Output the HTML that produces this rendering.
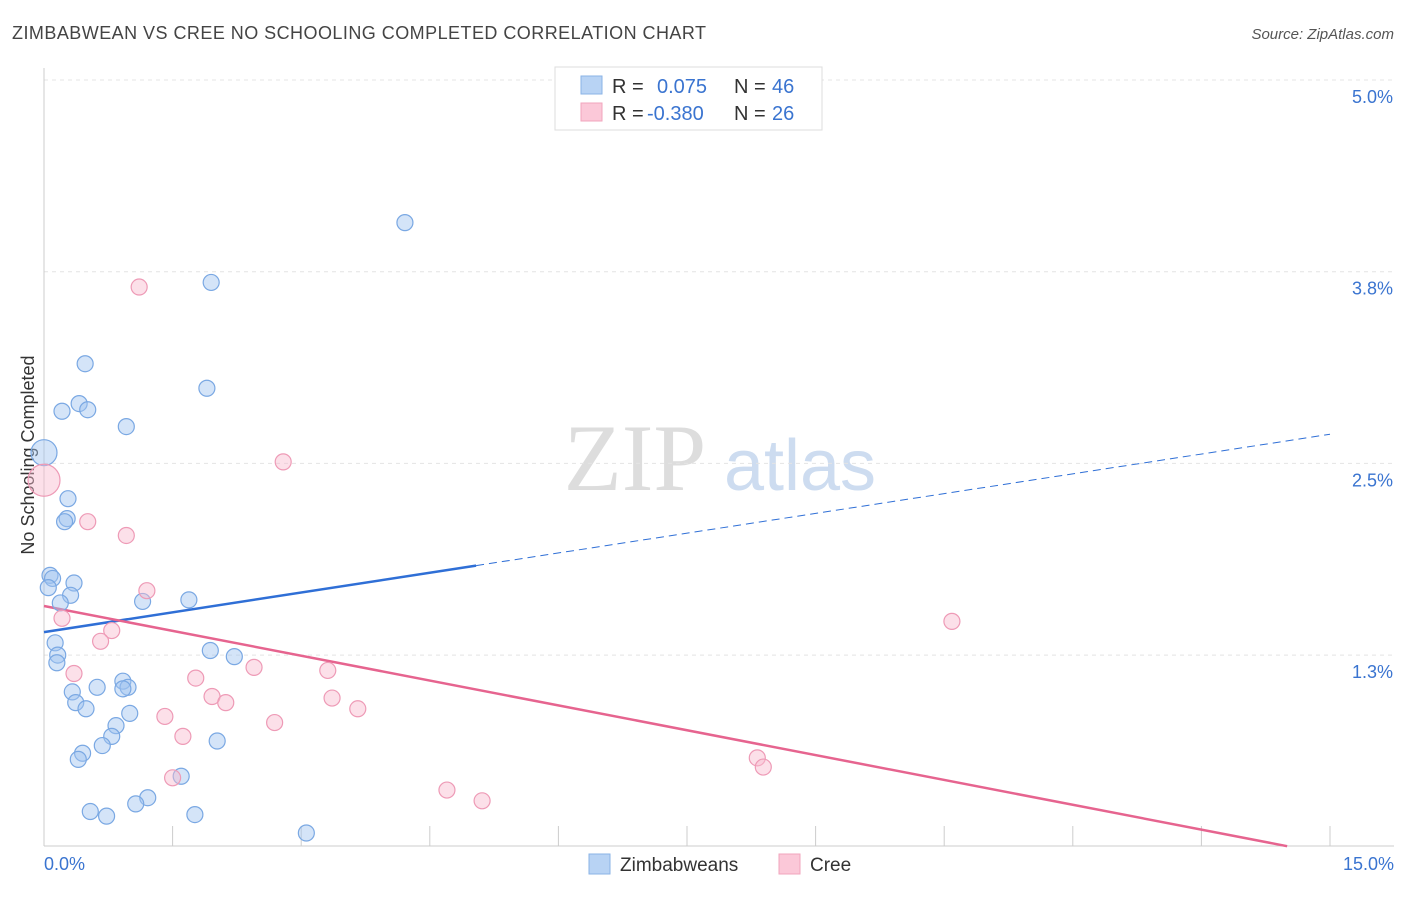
<!DOCTYPE html>
<html><head><meta charset="utf-8"><style>
body{margin:0;background:#fff;font-family:"Liberation Sans",sans-serif;}
svg text{font-family:"Liberation Sans",sans-serif;}
</style></head><body>
<svg id="chart" width="1406" height="892">
<text x="12" y="39" font-size="18" fill="#444" textLength="694">ZIMBABWEAN VS CREE NO SCHOOLING COMPLETED CORRELATION CHART</text>
<text x="1394" y="39" font-size="15" fill="#555" text-anchor="end" font-style="italic">Source: ZipAtlas.com</text>
<text x="0" y="0" transform="translate(34,455) rotate(-90)" font-size="18" fill="#333" text-anchor="middle">No Schooling Completed</text>
<g>
<text x="635" y="490" font-size="95" fill="#ddd" text-anchor="middle" style="font-family:'Liberation Serif',serif">ZIP</text>
<text x="800" y="490" font-size="72" fill="#cddcf0" text-anchor="middle">atlas</text>
</g>
<g id="grid"></g><g id="axes"></g><g id="lines"></g><g id="pts"></g>
<g>
<rect x="555" y="67" width="267" height="63" fill="#fff" stroke="#ddd"/>
<rect x="581" y="76" width="21" height="18" fill="#b8d3f4" stroke="#8ab3e6"/>
<rect x="581" y="103" width="21" height="18" fill="#fbc8d8" stroke="#f1a5bd"/>
<text x="612" y="93" font-size="20" fill="#333">R =</text>
<text x="657" y="93" font-size="20" fill="#3a74d0">0.075</text>
<text x="734" y="93" font-size="20" fill="#333">N =</text>
<text x="772" y="93" font-size="20" fill="#3a74d0">46</text>
<text x="612" y="120" font-size="20" fill="#333">R =</text>
<text x="647" y="120" font-size="20" fill="#3a74d0">-0.380</text>
<text x="734" y="120" font-size="20" fill="#333">N =</text>
<text x="772" y="120" font-size="20" fill="#3a74d0">26</text>
</g>
<g>
<rect x="589" y="854" width="21" height="20" fill="#b8d3f4" stroke="#8ab3e6"/>
<text x="620" y="871" font-size="19" fill="#333">Zimbabweans</text>
<rect x="779" y="854" width="21" height="20" fill="#fbc8d8" stroke="#f1a5bd"/>
<text x="810" y="871" font-size="19" fill="#333">Cree</text>
</g>
</svg>
<script>
const blueX=[4.21,1.95,0.48,1.90,0.41,0.21,0.51,0.96,0,0.28,0.27,0.24,0.07,0.10,0.35,0.05,0.31,0.19,1.15,1.69,0.13,0.16,0.15,1.94,2.22,0.92,0.62,0.98,0.92,0.33,0.37,0.49,1.00,0.84,0.79,2.02,0.68,0.45,0.40,1.60,1.21,1.07,0.54,0.73,1.76,3.06];
const blueY=[4.07,3.68,3.15,2.99,2.89,2.84,2.85,2.74,2.57,2.27,2.14,2.12,1.77,1.75,1.72,1.69,1.64,1.59,1.60,1.61,1.33,1.25,1.20,1.28,1.24,1.08,1.04,1.04,1.03,1.01,0.94,0.90,0.87,0.79,0.72,0.69,0.66,0.61,0.57,0.46,0.32,0.28,0.23,0.20,0.21,0.09];
const pinkX=[1.11,2.79,0,0.51,0.96,1.20,0.21,0.79,0.66,0.35,2.45,1.77,3.31,1.96,2.12,3.36,3.66,1.41,2.69,1.62,8.32,8.39,1.50,4.70,5.11,10.59];
const pinkY=[3.65,2.51,2.39,2.12,2.03,1.67,1.49,1.41,1.34,1.13,1.17,1.10,1.15,0.98,0.94,0.97,0.90,0.85,0.81,0.72,0.58,0.52,0.45,0.37,0.30,1.47];
const yTicks=[5.0,3.75,2.5,1.25];
const yTickLabels=["5.0%","3.8%","2.5%","1.3%"];
const blueTrend=[1.40,2.69]; const blueSolidEnd=5.04;
const pinkTrend=[1.57,-0.05]; const pinkEnd=14.5;
const X=v=>44+v/15*1286, Y=v=>80+(5-v)/1.25*191.7;
const NS="http://www.w3.org/2000/svg";
function mk(p,t,a){const e=document.createElementNS(NS,t);for(const k in a)e.setAttribute(k,a[k]);p.appendChild(e);return e;}
const grid=document.getElementById('grid'),axes=document.getElementById('axes'),lines=document.getElementById('lines'),pts=document.getElementById('pts');
yTicks.forEach((t,i)=>{
 const g=mk(grid,'line',{x1:44,x2:1394,y1:Y(t),y2:Y(t),stroke:'#e4e4e4','stroke-dasharray':'4,4'});
 
 
 const l=mk(axes,'text',{x:1393,y:Y(t)+23,'font-size':18,fill:'#3a74d0','text-anchor':'end'});
 l.textContent=yTickLabels[i];
 
 
});
const ax=mk(axes,'line',{x1:44,x2:44,y1:68,y2:846,stroke:'#ccc'});


const bx=mk(axes,'line',{x1:44,x2:1394,y1:846,y2:846,stroke:'#ccc'});


for(let i=1;i<=10;i++){const t=mk(axes,'line',{x1:X(i*1.5),x2:X(i*1.5),y1:826,y2:846,stroke:'#ccc'});
 
 }
[["0.0%",44,'start'],["15.0%",1394,'end']].forEach(d=>{const t=mk(axes,'text',{x:d[1],y:870,'font-size':18,fill:'#3a74d0','text-anchor':d[2]});t.textContent=d[0];
 
 });
const bf=x=>blueTrend[0]+(blueTrend[1]-blueTrend[0])*x/15, pf=x=>pinkTrend[0]+(pinkTrend[1]-pinkTrend[0])*x/15;
let l1=mk(lines,'line',{x1:X(0),y1:Y(bf(0)),x2:X(blueSolidEnd),y2:Y(bf(blueSolidEnd)),stroke:'#2f6fd6','stroke-width':2.5});


let l2=mk(lines,'line',{x1:X(blueSolidEnd),y1:Y(bf(blueSolidEnd)),x2:X(15),y2:Y(bf(15)),stroke:'#2f6fd6','stroke-width':1,'stroke-dasharray':'8,5'});


let l3=mk(lines,'line',{x1:X(0),y1:Y(pf(0)),x2:X(pinkEnd),y2:Y(pf(pinkEnd)),stroke:'#e6648f','stroke-width':2.5});


blueX.forEach((x,i)=>{const c=mk(pts,'circle',{cx:X(x),cy:Y(blueY[i]),r:x===0?13:8,fill:'rgba(160,196,240,0.45)',stroke:'#7aa8e3','stroke-width':1.2});
 
 });
pinkX.forEach((x,i)=>{const c=mk(pts,'circle',{cx:X(x),cy:Y(pinkY[i]),r:x===0?16:8,fill:'rgba(248,186,206,0.45)',stroke:'#ee9ab6','stroke-width':1.2});
 
 });
</script>
</body></html>
